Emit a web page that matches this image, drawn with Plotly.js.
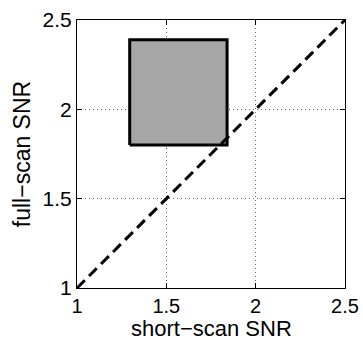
<!DOCTYPE html>
<html><head><meta charset="utf-8">
<script src="https://cdn.plot.ly/plotly-3.0.1.min.js"></script>
<style>html,body{margin:0;padding:0;background:#fff;}#chart{width:363px;height:342px;}</style>
</head><body><div id="chart"></div>
<script>
const diagX = [1, 2.5];
const diagY = [1, 2.5];
const boxX = [1.295, 1.84, 1.84, 1.295, 1.295];
const boxY = [1.8, 1.8, 2.39, 2.39, 1.8];
const tickVals = [1, 1.5, 2, 2.5];
const tickText = ['1', '1.5', '2', '2.5'];
const xTitle = 'short\u2212scan SNR';
const yTitle = 'full\u2212scan SNR';

const FONT = '"Liberation Sans", Arial, sans-serif';
const traces = [
  {x: boxX, y: boxY, mode: 'lines', fill: 'toself', fillcolor: '#a6a6a6',
   line: {color: '#000', width: 3}, hoverinfo: 'skip', showlegend: false},
  {x: diagX, y: diagY, mode: 'lines',
   line: {color: '#000', width: 3, dash: '11px,6px'}, hoverinfo: 'skip', showlegend: false}
];
const axisCommon = {
  range: [1, 2.5], tickvals: tickVals, ticktext: tickText,
  showgrid: true, gridcolor: '#666', griddash: '1px,3px', gridwidth: 1,
  zeroline: false, showline: true, mirror: 'ticks', linecolor: '#000', linewidth: 1,
  ticks: 'inside', ticklen: 5, tickcolor: '#000',
  tickfont: {family: FONT, size: 21, color: '#000'}
};
const plotH = 342 - 20 - 54;
const layout = {
  width: 363, height: 342,
  margin: {l: 77, r: 18, t: 20, b: 54},
  paper_bgcolor: '#fff', plot_bgcolor: '#fff',
  xaxis: Object.assign({}, axisCommon, {ticklabelstandoff: 0, tickfont: {family: FONT, size: 20, color: '#000'}}),
  yaxis: Object.assign({}, axisCommon, {
    ticklabelstandoff: 0,
    title: {text: yTitle, font: {family: FONT, size: 23, color: '#000'}, standoff: 5}
  }),
  annotations: [{
    text: xTitle, xref: 'paper', yref: 'paper', x: 0.5, y: -54 / plotH,
    xanchor: 'center', yanchor: 'bottom', yshift: 0, showarrow: false, borderpad: 0,
    font: {family: FONT, size: 22, color: '#000'}
  }]
};
Plotly.newPlot('chart', traces, layout, {displayModeBar: false, staticPlot: true});
</script></body></html>
